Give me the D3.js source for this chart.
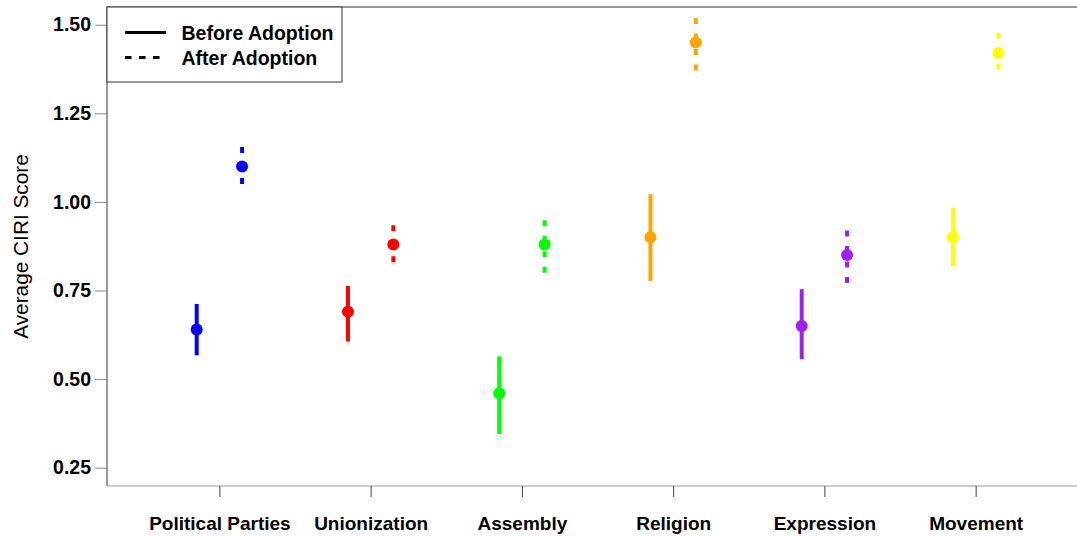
<!DOCTYPE html>
<html>
<head>
<meta charset="utf-8">
<script src="https://cdn.jsdelivr.net/npm/d3@7"></script>
<style>
  html, body { margin: 0; padding: 0; background: #fff; }
  svg { display: block; }
  text { font-family: "Liberation Sans", Arial, sans-serif; }
</style>
</head>
<body>
<svg id="chart" width="1077" height="536"></svg>
<script>
// Rights categories and their colours
const categories = ["Political Parties", "Unionization", "Assembly", "Religion", "Expression", "Movement"];
const colors = ["#0000FF", "#FF0000", "#00FF00", "#FFA500", "#A020F0", "#FFFF00"];

// Average CIRI score before adoption, with interval bounds
const beforeMean = [0.64, 0.69, 0.46, 0.90, 0.65, 0.90];
const beforeLow  = [0.567, 0.606, 0.345, 0.777, 0.556, 0.818];
const beforeHigh = [0.712, 0.763, 0.564, 1.022, 0.754, 0.984];

// Average CIRI score after adoption, with interval bounds
const afterMean = [1.10, 0.88, 0.88, 1.45, 0.85, 1.42];
const afterLow  = [1.047, 0.826, 0.795, 1.369, 0.766, 1.366];
const afterHigh = [1.155, 0.934, 0.948, 1.519, 0.919, 1.477];

const yTicks = [0.25, 0.50, 0.75, 1.00, 1.25, 1.50];
const legendLabels = ["Before Adoption", "After Adoption"];

const svg = d3.select("#chart");
const plot = { left: 107, right: 1077, top: 7, bottom: 486 };

const x = d3.scaleLinear().domain([0.257, 6.67]).range([plot.left, plot.right]);
const y = d3.scaleLinear().domain([0.1983, 1.55]).range([plot.bottom, plot.top]);
const offset = 0.15;

// Frame lines: left, top and bottom
svg.append("line").attr("x1", plot.left).attr("x2", plot.left)
  .attr("y1", plot.top).attr("y2", plot.bottom)
  .attr("stroke", "#333").attr("stroke-width", 1);
svg.append("line").attr("x1", plot.left).attr("x2", plot.right)
  .attr("y1", plot.top).attr("y2", plot.top)
  .attr("stroke", "#333").attr("stroke-width", 1);
svg.append("line").attr("x1", plot.left).attr("x2", plot.right)
  .attr("y1", plot.bottom).attr("y2", plot.bottom)
  .attr("stroke", "#999").attr("stroke-width", 1);

// Y axis
const yAxis = svg.append("g")
  .attr("transform", `translate(${plot.left},0)`)
  .call(d3.axisLeft(y).tickValues(yTicks).tickFormat(d3.format(".2f")).tickSize(12).tickPadding(4));
yAxis.select(".domain").remove();
yAxis.selectAll(".tick line").attr("stroke", "#888");
yAxis.selectAll(".tick text")
  .attr("fill", "#000").style("font-size", "19.5px").style("font-weight", "bold")
  .style("font-family", "'Liberation Sans', Arial, sans-serif");

// X axis
const xAxis = svg.append("g")
  .attr("transform", `translate(0,${plot.bottom})`)
  .call(d3.axisBottom(x).tickValues(d3.range(1, categories.length + 1))
    .tickFormat(i => categories[i - 1]).tickSize(11).tickPadding(19.5));
xAxis.select(".domain").remove();
xAxis.selectAll(".tick line").attr("stroke", "#444");
xAxis.selectAll(".tick text")
  .attr("fill", "#000").style("font-size", "19px").style("font-weight", "bold")
  .style("font-family", "'Liberation Sans', Arial, sans-serif");

// Y axis title
svg.append("text")
  .attr("transform", `translate(28,${(plot.top + plot.bottom) / 2}) rotate(-90)`)
  .attr("text-anchor", "middle")
  .style("font-size", "20.8px")
  .attr("fill", "#000")
  .text("Average CIRI Score");

// Interval lines and point estimates
const groups = [
  { mean: beforeMean, low: beforeLow, high: beforeHigh, shift: -offset, dash: null },
  { mean: afterMean,  low: afterLow,  high: afterHigh,  shift: offset,  dash: "6,9.5" }
];

groups.forEach(g => {
  const layer = svg.append("g");
  layer.selectAll("line")
    .data(categories)
    .join("line")
    .attr("x1", (d, i) => x(i + 1 + g.shift))
    .attr("x2", (d, i) => x(i + 1 + g.shift))
    .attr("y1", (d, i) => y(g.high[i]))
    .attr("y2", (d, i) => y(g.low[i]))
    .attr("stroke", (d, i) => colors[i])
    .attr("stroke-width", 4)
    .attr("stroke-dasharray", g.dash);
  layer.selectAll("circle")
    .data(categories)
    .join("circle")
    .attr("cx", (d, i) => x(i + 1 + g.shift))
    .attr("cy", (d, i) => y(g.mean[i]))
    .attr("r", 6)
    .attr("fill", (d, i) => colors[i]);
});

// Legend
const legend = svg.append("g");
legend.append("rect")
  .attr("x", plot.left).attr("y", plot.top)
  .attr("width", 235).attr("height", 75)
  .attr("fill", "#fff").attr("stroke", "#333").attr("stroke-width", 1);
const legendRows = [
  { label: legendLabels[0], y: 32.5, dash: null },
  { label: legendLabels[1], y: 57.5, dash: "6.5,7.5" }
];
legendRows.forEach(r => {
  legend.append("line")
    .attr("x1", 125).attr("x2", 166)
    .attr("y1", r.y).attr("y2", r.y)
    .attr("stroke", "#000").attr("stroke-width", 3)
    .attr("stroke-dasharray", r.dash);
  legend.append("text")
    .attr("x", 181.5).attr("y", r.y)
    .attr("dy", "0.36em")
    .style("font-size", "19.5px").style("font-weight", "bold")
    .attr("fill", "#000")
    .text(r.label);
});
</script>
</body>
</html>
